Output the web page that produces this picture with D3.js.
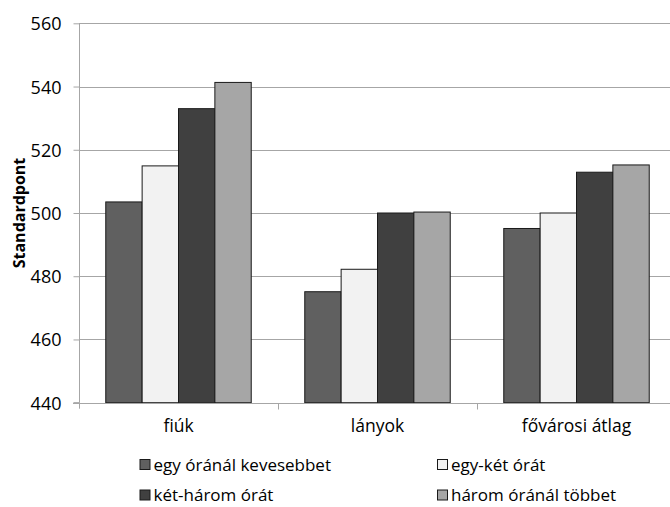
<!DOCTYPE html>
<html><head><meta charset="utf-8">
<script src="https://cdn.jsdelivr.net/npm/d3@7"></script>
<style>body{margin:0;background:#fff}svg{display:block}text{font-family:"Open Sans",sans-serif;fill:#000}</style>
</head><body>
<svg id="c" width="670" height="507"></svg>
<script>
const categories = ["fiúk", "lányok", "fővárosi átlag"];
const seriesNames = ["egy óránál kevesebbet", "egy-két órát", "két-három órát", "három óránál többet"];
const values = [
  [503.5, 475.1, 495.1],
  [514.9, 482.2, 500.0],
  [533.0, 500.0, 512.9],
  [541.3, 500.3, 515.2]
];
const yTicks = [440, 460, 480, 500, 520, 540, 560];
const colors = ["#606060", "#f2f2f2", "#404040", "#a6a6a6"];

const svg = d3.select("#c");
const L = 79, R = 676, T = 23.3, B = 402.7;
const x = d3.scaleBand().domain(categories).range([L, R]).paddingInner(0).paddingOuter(0);
const y = d3.scaleLinear().domain([440, 560]).range([B, T]);
const groupW = x.bandwidth() * 0.731;
const xs = d3.scaleBand().domain(d3.range(4)).range([0, groupW]).padding(0);

// gridlines
svg.append("g").selectAll("line").data(yTicks.slice(1)).join("line")
  .attr("x1", L).attr("x2", R).attr("y1", d => Math.round(y(d)) + 0.5).attr("y2", d => Math.round(y(d)) + 0.5)
  .attr("stroke", "#a6a6a6").attr("stroke-width", 1);

// bars
const series = values.map((v, i) => ({i, v}));
svg.append("g").selectAll("g").data(series).join("g")
  .attr("fill", d => colors[d.i])
  .selectAll("rect").data(d => d.v.map((val, j) => ({val, j, i: d.i}))).join("rect")
  .attr("x", d => x(categories[d.j]) + (x.bandwidth() - groupW) / 2 + xs(d.i))
  .attr("width", xs.bandwidth())
  .attr("y", d => y(d.val))
  .attr("height", d => y(440) - y(d.val))
  .attr("stroke", "#1a1a1a").attr("stroke-width", 1);

// y axis
const yAxis = d3.axisLeft(y).tickValues(yTicks).tickSize(6).tickFormat(d3.format("d"));
const ya = svg.append("g").attr("transform", `translate(${L + 0.5},0)`).call(yAxis);
ya.select(".domain").attr("stroke", "#a6a6a6").attr("d", `M-6,${B}H0V${T}`);
ya.selectAll(".tick line").attr("stroke", "#a6a6a6");
ya.selectAll(".tick text").attr("x", -18).attr("dy", "0.36em").style("font-size", "18px").style("font-family", "'Open Sans',sans-serif").attr("fill", "#000");
ya.append("line").attr("x1", 0).attr("x2", 0).attr("y1", B).attr("y2", B + 6).attr("stroke", "#a6a6a6");

// x axis
const xAxis = d3.axisBottom(x).tickSize(0).tickSizeOuter(0);
const xa = svg.append("g").attr("transform", `translate(0,${Math.round(B) + 0.5})`).call(xAxis);
xa.select(".domain").attr("stroke", "#a6a6a6").attr("d", `M${L - 6},0H${R}`);
xa.selectAll(".tick text").attr("y", 16).style("font-size", "17.5px").style("font-family", "'Open Sans',sans-serif").attr("fill", "#000");
xa.selectAll(".sep").data(categories.slice(1)).join("line").attr("class", "sep")
  .attr("x1", d => Math.round(x(d)) + 0.5).attr("x2", d => Math.round(x(d)) + 0.5)
  .attr("y1", 0).attr("y2", 6).attr("stroke", "#a6a6a6");

// y title
svg.append("text").attr("transform", `translate(25,${(T + B) / 2}) rotate(-90)`)
  .attr("text-anchor", "middle").style("font-size", "16px").style("font-weight", "bold")
  .text("Standardpont");

// legend
const legPos = [[139.5, 465], [437, 465], [139.5, 495.5], [437, 495.5]];
const lg = svg.append("g").selectAll("g").data(seriesNames).join("g")
  .attr("transform", (d, i) => `translate(${legPos[i][0]},${legPos[i][1]})`);
lg.append("rect").attr("x", 0.5).attr("y", -5.5).attr("width", 10).attr("height", 10)
  .attr("fill", (d, i) => colors[i]).attr("stroke", "#1a1a1a");
lg.append("text").attr("x", 14).attr("dy", "0.35em").style("font-size", "17px").text(d => d);
</script>
</body></html>
